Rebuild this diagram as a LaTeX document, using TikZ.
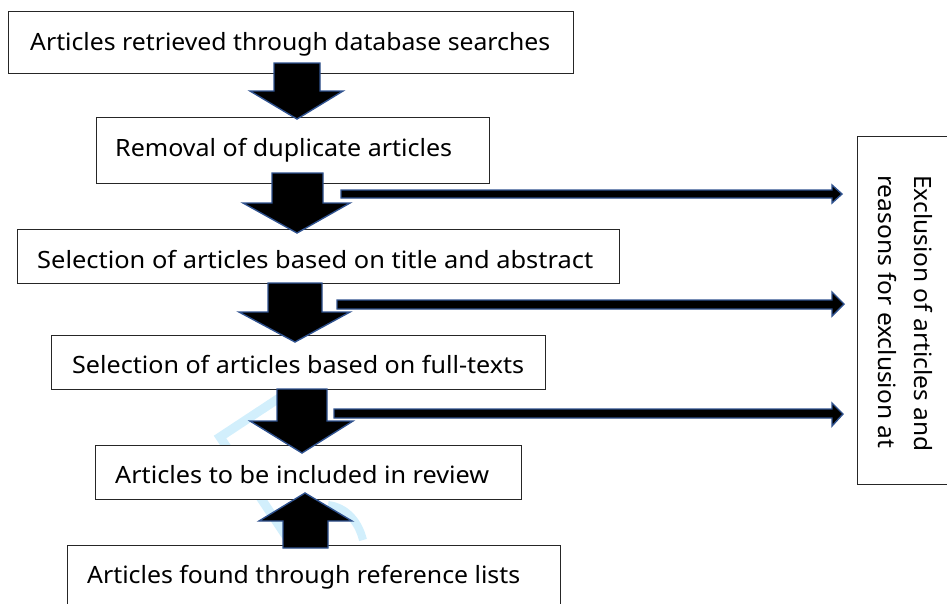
\documentclass[tikz,border=0pt]{standalone}
\usepackage{fontspec}
\setmainfont{Noto Sans}
\usepackage{graphicx}
\definecolor{arrowblue}{RGB}{47,82,143}
\definecolor{wmark}{RGB}{210,239,252}
\newcommand\fitw[2]{\resizebox{#1pt}{\height}{#2}}
\begin{document}
\begin{tikzpicture}[x=1pt,y=-1pt,
  box/.style={draw=black!85, line width=0.8pt, fill=white, inner sep=0pt, anchor=north west},
  txt/.style={inner sep=0pt, anchor=base west, font=\fontsize{23.8}{28}\selectfont},
  barrow/.style={fill=black, draw=arrowblue, line width=1.4pt, line join=miter}]
\useasboundingbox (0,0) rectangle (947,603);
\clip (0,0) rectangle (947,603);
% watermark
\draw[wmark, line width=9pt] (305,381) -- (220,437) -- (300,557);
\draw[wmark, line width=8pt] (328,505) .. controls (345,507) and (358,520) .. (363,540);
% boxes
\node[box, minimum width=565pt, minimum height=62pt] (b1) at (8,11) {};
\node[box, minimum width=393pt, minimum height=66pt] (b2) at (96,117) {};
\node[box, minimum width=602pt, minimum height=54pt] (b3) at (17,229) {};
\node[box, minimum width=494pt, minimum height=54pt] (b4) at (51,335) {};
\node[box, minimum width=426pt, minimum height=54pt] (b5) at (95,445) {};
\node[box, minimum width=493pt, minimum height=80pt] (b6) at (67,545) {};
\node[box, minimum width=110pt, minimum height=348pt] (ex) at (857,136) {};
% texts
\node[txt] (t1) at (30,50) {\fitw{520}{Articles retrieved through database searches}};
\node[txt] (t2) at (115,156) {\fitw{337}{Removal of duplicate articles}};
\node[txt] (t3) at (37,268) {\fitw{556}{Selection of articles based on title and abstract}};
\node[txt] (t4) at (72,373) {\fitw{452}{Selection of articles based on full-texts}};
\node[txt] (t5) at (115,483) {\fitw{374}{Articles to be included in review}};
\node[txt] (t6) at (87,583) {\fitw{433}{Articles found through reference lists}};
\node[txt, rotate=-90] (e1) at (914,175) {\fitw{276}{Exclusion of articles and}};
\node[txt, rotate=-90] (e2) at (878,175) {\fitw{273}{reasons for exclusion at}};
% down block arrows
\draw[barrow] (274,63) -- (320,63) -- (320,91) -- (343,91) -- (297,119) -- (250,91) -- (274,91) -- cycle;
\draw[barrow] (272,173) -- (323,173) -- (323,203) -- (350,203) -- (297,233) -- (243,203) -- (272,203) -- cycle;
\draw[barrow] (268,283) -- (322,283) -- (322,312) -- (350,312) -- (295,342) -- (239,312) -- (268,312) -- cycle;
\draw[barrow] (277,389) -- (327,389) -- (327,421) -- (353,421) -- (302,453) -- (250,421) -- (277,421) -- cycle;
% up block arrow
\draw[barrow] (283,548) -- (328,548) -- (328,521) -- (352,521) -- (305,493) -- (259,521) -- (283,521) -- cycle;
% horizontal arrows to exclusion box
\draw[barrow] (341,190) -- (832,190) -- (832,185) -- (842,194) -- (832,203) -- (832,198) -- (341,198) -- cycle;
\draw[barrow] (337,300) -- (832,300) -- (832,292) -- (844,304) -- (832,316) -- (832,309) -- (337,309) -- cycle;
\draw[barrow] (334,409) -- (832,409) -- (832,403) -- (843,414) -- (832,426) -- (832,418) -- (334,418) -- cycle;
\end{tikzpicture}
\end{document}
